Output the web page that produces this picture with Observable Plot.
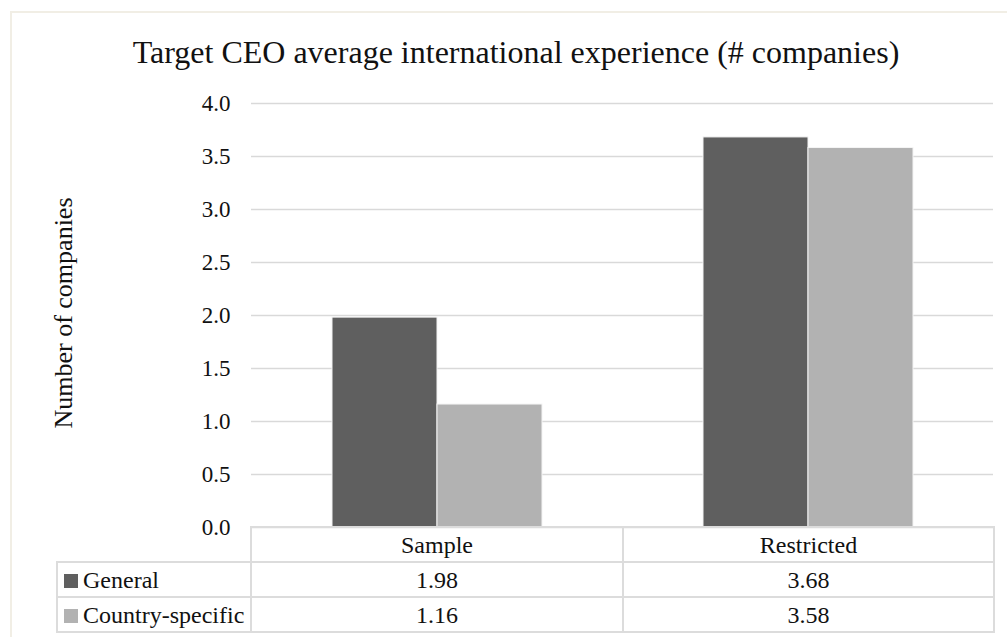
<!DOCTYPE html>
<html>
<head>
<meta charset="utf-8">
<script src="https://cdn.jsdelivr.net/npm/d3@7"></script>
<script src="https://cdn.jsdelivr.net/npm/@observablehq/plot@0.6"></script>
<style>
  html, body { margin: 0; padding: 0; background: #fff; }
  #wrap { position: relative; width: 1007px; height: 637px; overflow: hidden; font-family: "Liberation Serif", "Times New Roman", serif; color: #111; }
  #frame { position: absolute; left: 10px; top: 11px; width: 1100px; height: 700px; border-top: 2px solid #f1eee5; border-left: 2px solid #f1eee5; }
  #title { position: absolute; left: 0; width: 1032px; top: 32px; text-align: center; font-family: "Liberation Serif", serif; font-size: 32px; line-height: 40px; white-space: nowrap; }
  #ylabel { position: absolute; left: 64px; top: 313px; transform: translate(-50%, -50%) rotate(-90deg); font-family: "Liberation Serif", serif; font-size: 26px; line-height: 30px; white-space: nowrap; }
  #chart { position: absolute; left: 0; top: 80px; }
  #table { position: absolute; left: 56px; top: 526px; border-collapse: collapse; table-layout: fixed; width: 939px; font-family: "Liberation Serif", serif; font-size: 24px; }
  #table td { border: 2px solid #dcdcdc; padding: 0; height: 33px; line-height: 28px; text-align: center; }
  #table td.blank { border: none; }
  #table td.leg { text-align: left; padding-left: 6px; white-space: nowrap; }
  .sw { display: inline-block; width: 14px; height: 14px; margin-right: 5px; vertical-align: 0px; }
</style>
</head>
<body>
<div id="wrap">
  <div id="frame"></div>
  <div id="title"></div>
  <div id="ylabel"></div>
  <div id="chart"></div>
  <table id="table"></table>
</div>
<script>
const titleText = "Target CEO average international experience (# companies)";
const yLabel = "Number of companies";
const categories = ["Sample", "Restricted"];
const seriesNames = ["General", "Country-specific"];
const generalValues = [1.98, 3.68];
const countryValues = [1.16, 3.58];
const seriesColors = ["#5f5f5f", "#b2b2b2"];
const yTicks = [0, 0.5, 1, 1.5, 2, 2.5, 3, 3.5, 4];
const valueLabels = [["1.98", "3.68"], ["1.16", "3.58"]];

const rows = categories.flatMap((c, i) => [
  {category: c, series: seriesNames[0], value: generalValues[i]},
  {category: c, series: seriesNames[1], value: countryValues[i]}
]);

document.getElementById("title").textContent = titleText;
document.getElementById("ylabel").textContent = yLabel;

const chart = Plot.plot({
  width: 1007,
  height: 452,
  marginTop: 23,
  marginBottom: 5,
  marginLeft: 250,
  marginRight: 14,
  style: {fontFamily: "Liberation Serif, Times New Roman, serif", fontSize: "23px", color: "#111", background: "transparent", overflow: "visible"},
  fx: {domain: categories, padding: 0, axis: null},
  x: {domain: seriesNames, paddingInner: 0, paddingOuter: 0.752, axis: null},
  y: {domain: [0, 4], ticks: yTicks, tickFormat: d3.format(".1f"), tickSize: 0, tickPadding: 21, label: null},
  color: {domain: seriesNames, range: seriesColors},
  marks: [
    Plot.ruleY(yTicks, {stroke: "#d9d9d9", strokeWidth: 1.5}),
    Plot.barY(rows, {fx: "category", x: "series", y: "value", fill: "series", stroke: "#f4f4f4", strokeWidth: 1})
  ]
});
document.getElementById("chart").appendChild(chart);

// data table below the chart
const table = d3.select("#table");
const colW = [194, 372, 371];
const cg = table.append("colgroup");
colW.forEach(w => cg.append("col").style("width", w + "px"));
const head = table.append("tr");
head.append("td").attr("class", "blank");
categories.forEach((c, i) => head.append("td").text(c));
seriesNames.forEach((s, si) => {
  const tr = table.append("tr");
  const td = tr.append("td").attr("class", "leg");
  td.append("span").attr("class", "sw").style("background", seriesColors[si]);
  td.append("span").text(s);
  categories.forEach((c, ci) => tr.append("td").text(valueLabels[si][ci]));
});
</script>
</body>
</html>
